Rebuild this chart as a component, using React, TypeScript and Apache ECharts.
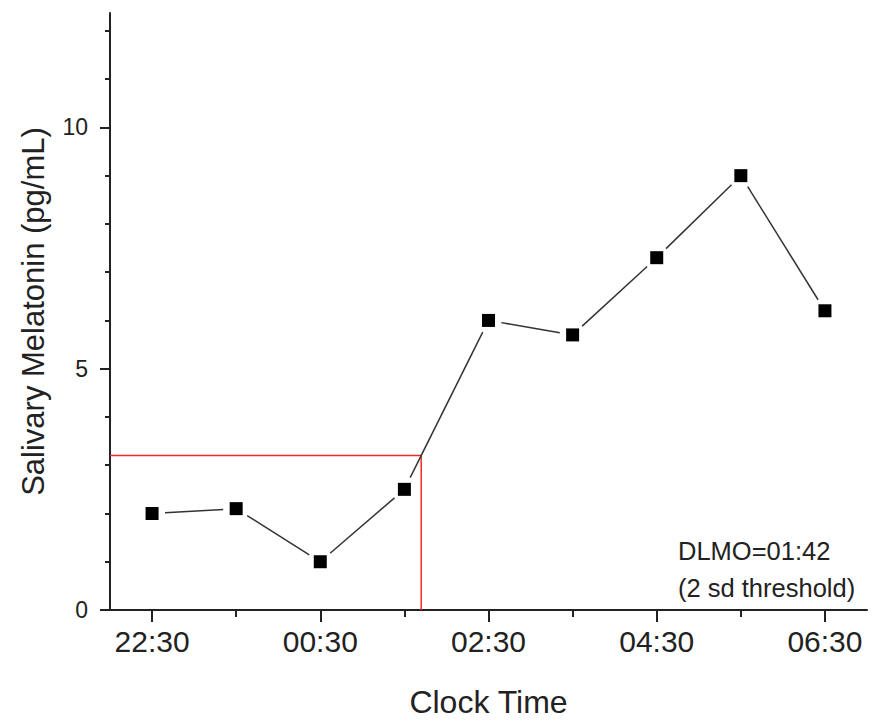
import React, { useEffect, useRef } from "react";
import * as echarts from "echarts";

// hours after 22:00
const times = [0.5, 1.5, 2.5, 3.5, 4.5, 5.5, 6.5, 7.5, 8.5];
const melatonin = [2.0, 2.1, 1.0, 2.5, 6.0, 5.7, 7.3, 9.0, 6.2];
const majorXTicks = [0.5, 2.5, 4.5, 6.5, 8.5];
const minorXTicks = [1.5, 3.5, 5.5, 7.5];
const majorYTicks = [0, 5, 10];
const minorYTicks = [1, 2, 3, 4, 6, 7, 8, 9, 11, 12];
const dlmoTime = 3.7; // 01:42
const threshold = 3.2;
const noteLines = ["DLMO=01:42", "(2 sd threshold)"];

const FONT = "Liberation Sans, Arial, sans-serif";
const INK = "#222";
const GAP = 13;

function fmtTime(v: number) {
  const total = Math.round(22 * 60 + v * 60) % (24 * 60);
  const h = Math.floor(total / 60);
  const m = total % 60;
  return String(h).padStart(2, "0") + ":" + String(m).padStart(2, "0");
}

export default function App() {
  const ref = useRef<HTMLDivElement>(null);
  useEffect(() => {
    if (!ref.current) return;
    const chart = echarts.init(ref.current, null, { renderer: "svg" });
    const xBase = { type: "value", min: 0, max: 9, gridIndex: 0, splitLine: { show: false } };
    const yBase = { type: "value", min: 0, max: 12.37, gridIndex: 0, splitLine: { show: false } };
    const points = times.map((t, i) => [t, melatonin[i]]);
    const segments = points.slice(0, -1).map((p, i) => [p[0], p[1], points[i + 1][0], points[i + 1][1]]);
    chart.setOption({
      animation: false,
      backgroundColor: "#fff",
      grid: { left: 110, right: 5, top: 13, bottom: 110, containLabel: false },
      xAxis: [
        {
          ...xBase,
          position: "bottom",
          name: "Clock Time",
          nameLocation: "middle",
          nameGap: 76,
          nameTextStyle: { fontFamily: FONT, fontSize: 32, color: INK },
          axisLine: { show: true, lineStyle: { color: INK, width: 2 } },
          axisTick: { show: true, customValues: majorXTicks, length: 12, inside: false, lineStyle: { color: INK, width: 2 } },
          axisLabel: {
            customValues: majorXTicks,
            formatter: (v: number) => fmtTime(v),
            fontFamily: FONT,
            fontSize: 30,
            color: INK,
            margin: 16,
          },
        },
        {
          ...xBase,
          position: "bottom",
          axisLine: { show: false },
          axisTick: { show: true, customValues: minorXTicks, length: 7, inside: false, lineStyle: { color: INK, width: 2 } },
          axisLabel: { show: false },
        },
      ],
      yAxis: [
        {
          ...yBase,
          position: "left",
          name: "Salivary Melatonin (pg/mL)",
          nameLocation: "middle",
          nameGap: 61,
          nameTextStyle: { fontFamily: FONT, fontSize: 31, color: INK },
          axisLine: { show: true, lineStyle: { color: INK, width: 2 } },
          axisTick: { show: true, customValues: majorYTicks, length: 10, inside: false, lineStyle: { color: INK, width: 2 } },
          axisLabel: {
            customValues: majorYTicks,
            fontFamily: FONT,
            fontSize: 23,
            color: INK,
            margin: 22,
          },
        },
        {
          ...yBase,
          position: "left",
          axisLine: { show: false },
          axisTick: { show: true, customValues: minorYTicks, length: 5, inside: false, lineStyle: { color: INK, width: 2 } },
          axisLabel: { show: false },
        },
      ],
      series: [
        {
          type: "line",
          xAxisIndex: 0,
          yAxisIndex: 0,
          data: [
            [0, threshold],
            [dlmoTime, threshold],
            [dlmoTime, 0],
          ],
          symbol: "none",
          lineStyle: { color: "#ee2a2a", width: 1.5 },
          z: 2,
        },
        {
          type: "custom",
          xAxisIndex: 0,
          yAxisIndex: 0,
          data: segments,
          encode: { x: [0, 2], y: [1, 3] },
          renderItem: (params: any, api: any) => {
            const a = api.coord([api.value(0), api.value(1)]);
            const b = api.coord([api.value(2), api.value(3)]);
            const dx = b[0] - a[0];
            const dy = b[1] - a[1];
            const len = Math.sqrt(dx * dx + dy * dy);
            if (len <= 2 * GAP) return null;
            const ux = dx / len;
            const uy = dy / len;
            return {
              type: "line",
              shape: {
                x1: a[0] + ux * GAP,
                y1: a[1] + uy * GAP,
                x2: b[0] - ux * GAP,
                y2: b[1] - uy * GAP,
              },
              style: { stroke: "#333", lineWidth: 1.5 },
            };
          },
          z: 3,
        },
        {
          type: "scatter",
          xAxisIndex: 0,
          yAxisIndex: 0,
          data: points,
          symbol: "rect",
          symbolSize: 13,
          itemStyle: { color: "#000", opacity: 1 },
          z: 4,
        },
      ],
      graphic: [
        {
          type: "text",
          left: 678,
          top: 532,
          style: {
            text: noteLines.join("\n"),
            fontFamily: FONT,
            fontSize: 25.5,
            lineHeight: 37,
            fill: INK,
          },
        },
      ],
    });
    return () => chart.dispose();
  }, []);
  return (
    <div
      ref={ref}
      style={{ position: "fixed", left: 0, top: 0, width: 872, height: 723 }}
    />
  );
}
